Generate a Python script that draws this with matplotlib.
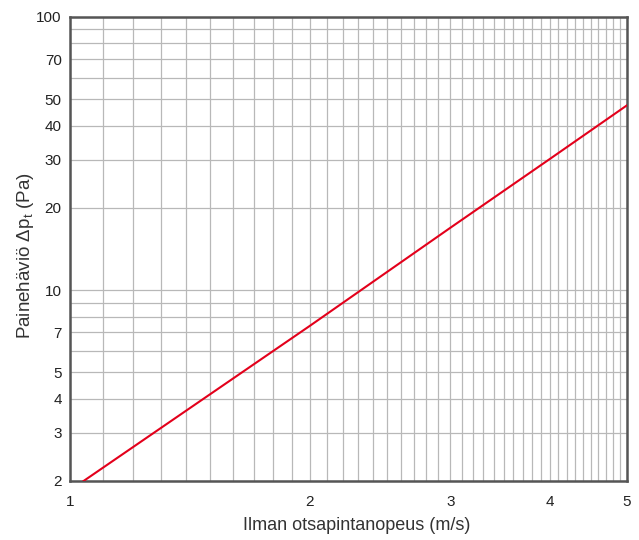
import matplotlib
matplotlib.use("Agg")
import matplotlib.pyplot as plt
import numpy as np
from matplotlib.ticker import FixedLocator, NullFormatter

plt.rcParams["font.family"] = ["Liberation Sans", "DejaVu Sans"]
plt.rcParams["mathtext.fontset"] = "custom"
plt.rcParams["mathtext.rm"] = "Liberation Sans"
plt.rcParams["mathtext.it"] = "Liberation Sans"

# values
speed = [1.04, 2.0, 3.0, 4.0, 5.0]          # m/s
pressure = [2.0, 7.4, 16.9, 30.2, 47.5]     # Pa
xticks = [1, 2, 3, 4, 5]
yticks = [2, 3, 4, 5, 7, 10, 20, 30, 40, 50, 70, 100]

fig = plt.figure(figsize=(6.39, 5.40), dpi=100)
ax = fig.add_axes([70 / 639, 1 - 481 / 540, 557 / 639, 464 / 540])

ax.set_xscale("log")
ax.set_yscale("log")
ax.set_xlim(1, 5)
ax.set_ylim(2, 100)

# grid: 0.1 steps on x, 1-steps below 10 and 10-steps above on y
xgrid = np.round(np.arange(1.0, 5.001, 0.1), 2)
ygrid = list(range(2, 10)) + list(range(10, 101, 10))
ax.xaxis.set_major_locator(FixedLocator(xticks))
ax.xaxis.set_minor_locator(FixedLocator(xgrid))
ax.yaxis.set_major_locator(FixedLocator(yticks))
ax.yaxis.set_minor_locator(FixedLocator(ygrid))
ax.set_xticklabels([str(t) for t in xticks])
ax.set_yticklabels([str(t) for t in yticks])
ax.xaxis.set_minor_formatter(NullFormatter())
ax.yaxis.set_minor_formatter(NullFormatter())
ax.grid(True, which="both", color="#b8b8b8", linewidth=0.9)
ax.set_axisbelow(True)

ax.tick_params(which="both", length=0)
ax.tick_params(axis="x", pad=10, labelsize=11, colors="#222222")
ax.tick_params(axis="y", pad=6, labelsize=11, colors="#222222")

for s in ax.spines.values():
    s.set_color("#555555")
    s.set_linewidth(1.8)

ax.plot(speed, pressure, color="#e3001b", linewidth=1.5, zorder=3)

ax.set_xlabel("Ilman otsapintanopeus (m/s)", fontsize=13, color="#333333", labelpad=6)
ax.set_ylabel("Painehäviö Δp$_\\mathrm{t}$ (Pa)", fontsize=13.5, color="#333333", labelpad=0)
ax.xaxis.label.set_x(0.515)
ax.yaxis.label.set_y(0.485)

fig.savefig("out.png", dpi=100)
